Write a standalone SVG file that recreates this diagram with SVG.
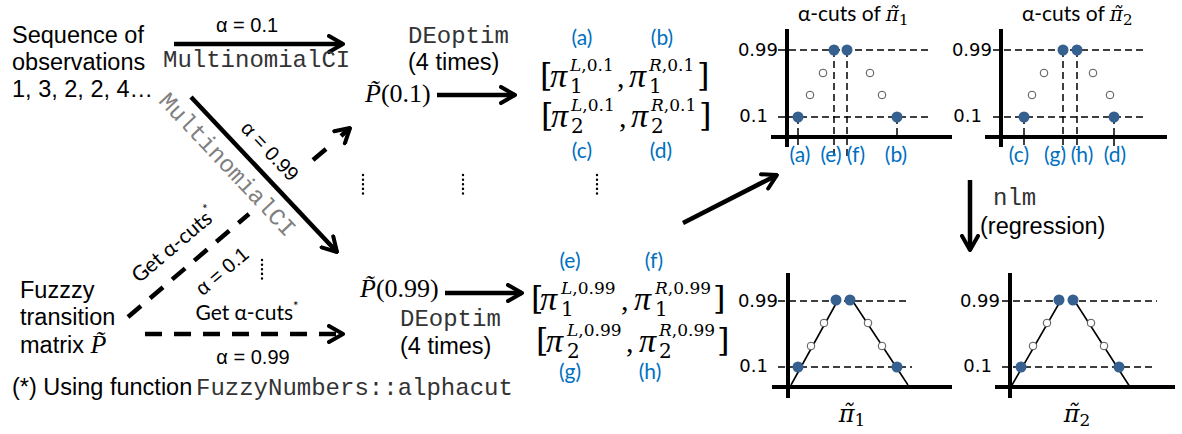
<svg xmlns="http://www.w3.org/2000/svg" width="1182" height="434" viewBox="0 0 1182 434">
<defs>
<style>
.t{font-family:"Liberation Sans",Arial,sans-serif;font-size:23.5px;fill:#000}
.m{font-family:"Liberation Mono","Courier New",monospace;font-size:24px;fill:#333}
.s{font-family:"Liberation Sans",Arial,sans-serif;font-size:20px;fill:#000}
.c{font-family:Lato,"Noto Sans",sans-serif;font-size:21px;fill:#000}
.b{font-family:Lato,"Noto Sans",sans-serif;font-size:21px;fill:#0070C0;text-anchor:middle}
.ps{font-family:"Liberation Serif","Times New Roman",serif;font-size:26px;fill:#000}
.mx{font-family:"DejaVu Serif",serif;fill:#000}
.pt{font-family:"DejaVu Serif",serif;font-style:italic}
.pi{font-family:"Liberation Serif","Times New Roman",serif;font-size:34px;font-style:italic}
.cm{font-family:"Liberation Serif","Times New Roman",serif;font-size:30px}
.sp{font-size:17px}
.sb{font-size:20px}
.br{font-size:32px}
.ax{font-family:"DejaVu Sans",Verdana,sans-serif;font-size:18px;fill:#000;text-anchor:end}
.arr{stroke:#000;stroke-width:4.5;fill:none}
.dash{stroke-dasharray:17 12}
.grid{stroke:#000;stroke-width:1.5;stroke-dasharray:7 4;fill:none}
.axis{stroke:#000;stroke-width:4;fill:none}
.fc{fill:#35608F}
.oc{fill:#fff;stroke:#555;stroke-width:1}
.tri{stroke:#000;stroke-width:1.6;fill:none}
.dots{stroke:#000;stroke-width:2.4;stroke-dasharray:0.1 4.5;stroke-linecap:round;fill:none}
</style>
<marker id="ah" viewBox="0 0 18 20" refX="16" refY="10" markerWidth="18" markerHeight="20" markerUnits="userSpaceOnUse" orient="auto">
<path d="M2,2 L16,10 L2,18" fill="none" stroke="#000" stroke-width="4" stroke-linecap="round" stroke-linejoin="round"/>
</marker>
</defs>
<rect width="1182" height="434" fill="#fff"/>

<g id="connectors">
<path class="arr" d="M174,44 H343" marker-end="url(#ah)"/>
<path class="arr" d="M191,97 L337,252" marker-end="url(#ah)"/>
<path class="arr dash" d="M128,317 L249,214"/>
<path class="arr" d="M313,160 L326,149"/>
<path class="arr" d="M341,136 L350,128" marker-end="url(#ah)"/>
<path class="arr dash" d="M145,334 H343" marker-end="url(#ah)"/>
<path class="arr" d="M437,95 H515" marker-end="url(#ah)"/>
<path class="arr" d="M445,293 H522" marker-end="url(#ah)"/>
<path class="arr" d="M683,223 L777,175" marker-end="url(#ah)"/>
<path class="arr" d="M970,180 V250" marker-end="url(#ah)"/>
<path class="dots" d="M262,260 V282 M363,175 V195 M463,175 V195 M597,175 V195"/>
</g>

<g id="edge-labels">
<text class="s" x="247" y="32" text-anchor="middle">α = 0.1</text>
<text class="m" x="163" y="67">MultinomialCI</text>
<text class="s" text-anchor="middle" transform="translate(270,151) rotate(46.7)" y="7">α = 0.99</text>
<text class="m" text-anchor="middle" transform="translate(227,165) rotate(46.7)" y="7" style="fill:#808080">MultinomialCI</text>
<text class="c" text-anchor="middle" transform="translate(174,245) rotate(-40.4)" y="7">Get α-cuts<tspan font-size="13" dy="-9">*</tspan></text>
<text class="s" text-anchor="middle" transform="translate(222,271) rotate(-40.4)" y="7">α = 0.1</text>
<text class="c" x="247" y="320" text-anchor="middle">Get α-cuts<tspan font-size="13" dy="-9">*</tspan></text>
<text class="s" x="253" y="364" text-anchor="middle">α = 0.99</text>
<text class="m" x="408" y="43">DEoptim</text>
<text class="t" x="408" y="70">(4 times)</text>
<text class="m" x="400" y="326">DEoptim</text>
<text class="t" x="400" y="354">(4 times)</text>
<text class="m" x="993" y="205">nlm</text>
<text class="t" x="980" y="234">(regression)</text>
</g>

<g id="node-sequence">
<text class="t" x="12" y="43">Sequence of</text>
<text class="t" x="12" y="70">observations</text>
<text class="t" x="12" y="97">1, 3, 2, 2, 4…</text>
</g>

<g id="node-fuzzy">
<text class="t" x="20" y="298">Fuzzzy</text>
<text class="t" x="20" y="325">transition</text>
<text class="t" x="20" y="353">matrix <tspan class="ps" font-style="italic">P̃</tspan></text>
</g>

<g id="footnote">
<text class="t" x="12" y="395">(*) Using function</text>
<text class="m" x="196" y="395">FuzzyNumbers::alphacut</text>
</g>

<g id="node-p01">
<text class="ps" x="365" y="102"><tspan font-style="italic">P̃</tspan>(0.1)</text>
</g>
<g id="node-p099">
<text class="ps" x="360" y="297"><tspan font-style="italic">P̃</tspan>(0.99)</text>
</g>

<g id="node-cuts01">
<text class="b" x="582" y="45">(a)</text>
<text class="b" x="662" y="45">(b)</text>
<text class="b" x="582" y="158">(c)</text>
<text class="b" x="661" y="158">(d)</text>
<text class="mx">
<tspan class="br" x="540" y="86">[</tspan><tspan class="pi" x="550" y="87">π</tspan><tspan class="sp" x="570" y="71"><tspan font-style="italic">L</tspan>,0.1</tspan><tspan class="sb" x="570" y="93">1</tspan><tspan class="cm" x="617" y="87">,</tspan><tspan class="pi" x="629" y="87">π</tspan><tspan class="sp" x="649" y="71"><tspan font-style="italic">R</tspan>,0.1</tspan><tspan class="sb" x="649" y="93">1</tspan><tspan class="br" x="697" y="86">]</tspan>
</text>
<text class="mx">
<tspan class="br" x="541" y="126">[</tspan><tspan class="pi" x="551" y="127">π</tspan><tspan class="sp" x="571" y="111"><tspan font-style="italic">L</tspan>,0.1</tspan><tspan class="sb" x="571" y="133">2</tspan><tspan class="cm" x="619" y="127">,</tspan><tspan class="pi" x="631" y="127">π</tspan><tspan class="sp" x="651" y="111"><tspan font-style="italic">R</tspan>,0.1</tspan><tspan class="sb" x="651" y="133">2</tspan><tspan class="br" x="699" y="126">]</tspan>
</text>
</g>

<g id="node-cuts099">
<text class="b" x="570" y="268">(e)</text>
<text class="b" x="654" y="268">(f)</text>
<text class="b" x="570" y="379">(g)</text>
<text class="b" x="650" y="379">(h)</text>
<text class="mx">
<tspan class="br" x="531" y="309">[</tspan><tspan class="pi" x="540" y="310">π</tspan><tspan class="sp" x="561" y="294"><tspan font-style="italic">L</tspan>,0.99</tspan><tspan class="sb" x="561" y="316">1</tspan><tspan class="cm" x="621" y="310">,</tspan><tspan class="pi" x="634" y="310">π</tspan><tspan class="sp" x="655" y="294"><tspan font-style="italic">R</tspan>,0.99</tspan><tspan class="sb" x="655" y="316">1</tspan><tspan class="br" x="713" y="309">]</tspan>
</text>
<text class="mx">
<tspan class="br" x="536" y="351">[</tspan><tspan class="pi" x="546" y="352">π</tspan><tspan class="sp" x="567" y="336"><tspan font-style="italic">L</tspan>,0.99</tspan><tspan class="sb" x="567" y="358">2</tspan><tspan class="cm" x="626" y="352">,</tspan><tspan class="pi" x="639" y="352">π</tspan><tspan class="sp" x="659" y="336"><tspan font-style="italic">R</tspan>,0.99</tspan><tspan class="sb" x="659" y="358">2</tspan><tspan class="br" x="717" y="351">]</tspan>
</text>
</g>

<g id="chart-cuts-pi1">
<text class="c" x="798" y="21">α-cuts of <tspan class="pt" font-size="20">π̃</tspan><tspan class="mx" font-size="15" dy="4">1</tspan></text>
<text class="ax" x="778" y="56">0.99</text>
<text class="ax" x="768" y="122">0.1</text>
<path class="grid" d="M778,50 H932 M778,117 H932 M798,117 V145 M834,50 V160 M847,50 V160 M897,117 V137"/>
<path class="axis" d="M787,29 V147 M771,137 H952"/>
<circle class="oc" cx="823" cy="73" r="3.8"/><circle class="oc" cx="810" cy="95" r="3.8"/><circle class="oc" cx="870" cy="73" r="3.8"/><circle class="oc" cx="882" cy="95" r="3.8"/>
<circle class="fc" cx="798" cy="117" r="5.5"/><circle class="fc" cx="834" cy="50" r="5.5"/><circle class="fc" cx="847" cy="50" r="5.5"/><circle class="fc" cx="897" cy="117" r="5.5"/>
<text class="b" x="800" y="162">(a)</text><text class="b" x="831" y="162">(e)</text><text class="b" x="856" y="162">(f)</text><text class="b" x="896" y="162">(b)</text>
</g>

<g id="chart-cuts-pi2">
<text class="c" x="1022" y="21">α-cuts of <tspan class="pt" font-size="20">π̃</tspan><tspan class="mx" font-size="15" dy="4">2</tspan></text>
<text class="ax" x="992" y="56">0.99</text>
<text class="ax" x="982" y="122">0.1</text>
<path class="grid" d="M993,50 H1145 M993,117 H1143 M1024,117 V145 M1063,50 V150 M1077,50 V150 M1114,117 V150"/>
<path class="axis" d="M1001,29 V147 M985,137 H1167"/>
<circle class="oc" cx="1032" cy="95" r="3.8"/><circle class="oc" cx="1044" cy="73" r="3.8"/><circle class="oc" cx="1093" cy="73" r="3.8"/><circle class="oc" cx="1110" cy="95" r="3.8"/>
<circle class="fc" cx="1024" cy="117" r="5.5"/><circle class="fc" cx="1063" cy="50" r="5.5"/><circle class="fc" cx="1077" cy="50" r="5.5"/><circle class="fc" cx="1114" cy="117" r="5.5"/>
<text class="b" x="1019" y="162">(c)</text><text class="b" x="1055" y="162">(g)</text><text class="b" x="1082" y="162">(h)</text><text class="b" x="1115" y="162">(d)</text>
</g>

<g id="chart-fuzzy-pi1">
<text class="ax" x="778" y="307">0.99</text>
<text class="ax" x="768" y="372">0.1</text>
<path class="grid" d="M778,301 H910 M778,367 H912"/>
<path class="tri" d="M791,385 L838,300 M852,300 L908,385"/>
<path class="axis" d="M788,273 V398 M772,387 H952"/>
<circle class="oc" cx="811" cy="346" r="3.8"/><circle class="oc" cx="824" cy="323" r="3.8"/><circle class="oc" cx="868" cy="323" r="3.8"/><circle class="oc" cx="882" cy="346" r="3.8"/>
<circle class="fc" cx="798" cy="367" r="5.5"/><circle class="fc" cx="836" cy="300" r="5.5"/><circle class="fc" cx="850" cy="300" r="5.5"/><circle class="fc" cx="897" cy="367" r="5.5"/>
<text class="mx" x="852" y="422" text-anchor="middle"><tspan class="pt" font-size="24">π̃</tspan><tspan font-size="17" dy="4">1</tspan></text>
</g>

<g id="chart-fuzzy-pi2">
<text class="ax" x="1000" y="307">0.99</text>
<text class="ax" x="992" y="372">0.1</text>
<path class="grid" d="M1002,301 H1157 M1002,367 H1153"/>
<path class="tri" d="M1012,385 L1061,300 M1074,300 L1130,387"/>
<path class="axis" d="M1010,273 V398 M995,387 H1175"/>
<circle class="oc" cx="1033" cy="346" r="3.8"/><circle class="oc" cx="1047" cy="323" r="3.8"/><circle class="oc" cx="1091" cy="323" r="3.8"/><circle class="oc" cx="1104" cy="346" r="3.8"/>
<circle class="fc" cx="1021" cy="367" r="5.5"/><circle class="fc" cx="1059" cy="300" r="5.5"/><circle class="fc" cx="1073" cy="300" r="5.5"/><circle class="fc" cx="1119" cy="367" r="5.5"/>
<text class="mx" x="1077" y="422" text-anchor="middle"><tspan class="pt" font-size="24">π̃</tspan><tspan font-size="17" dy="4">2</tspan></text>
</g>
</svg>
